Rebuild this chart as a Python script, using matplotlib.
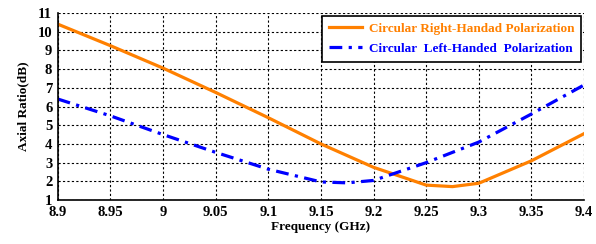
import matplotlib.pyplot as plt

# Data
freq_rh = [8.9, 8.95, 9.0, 9.05, 9.1, 9.15, 9.2, 9.25, 9.275, 9.3, 9.35, 9.4]
ar_rh = [10.4, 9.25, 8.05, 6.75, 5.4, 4.0, 2.75, 1.8, 1.72, 1.9, 3.1, 4.55]

freq_lh = [8.9, 8.95, 9.0, 9.05, 9.1, 9.15, 9.175, 9.2, 9.25, 9.3, 9.35, 9.4]
ar_lh = [6.4, 5.5, 4.5, 3.55, 2.65, 1.97, 1.92, 2.05, 3.0, 4.1, 5.6, 7.15]

xticks = [8.9, 8.95, 9.0, 9.05, 9.1, 9.15, 9.2, 9.25, 9.3, 9.35, 9.4]
xticklabels = ['8.9', '8.95', '9', '9.05', '9.1', '9.15', '9.2', '9.25', '9.3', '9.35', '9.4']
yticks = list(range(1, 12))

plt.rcParams['font.family'] = ['Liberation Serif', 'DejaVu Serif']
plt.rcParams['font.weight'] = 'bold'

fig = plt.figure(figsize=(5.96, 2.44), dpi=100)
ax = fig.add_axes([0.097, 0.18, 0.883, 0.767])

ax.plot(freq_rh, ar_rh, color='#FF8000', linewidth=2.3, linestyle='-',
        label='Circular Right-Handad Polarization')
ax.plot(freq_lh, ar_lh, color='#0000FF', linewidth=2.3, linestyle=(0, (4, 2, 1, 2)),
        label='Circular  Left-Handed  Polarization')

ax.set_xlim(8.9, 9.4)
ax.set_ylim(1, 11)
ax.set_xticks(xticks)
ax.set_xticklabels(xticklabels)
ax.set_yticks(yticks)
ax.tick_params(labelsize=10.5, length=0, pad=4)
for lbl in ax.get_xticklabels() + ax.get_yticklabels():
    lbl.set_fontweight('bold')

ax.grid(True, color='black', linestyle=(0, (2, 2)), linewidth=0.8)
ax.spines['top'].set_visible(False)
ax.spines['right'].set_visible(False)
ax.spines['left'].set_linewidth(1.2)
ax.spines['bottom'].set_linewidth(1.2)

ax.set_xlabel('Frequency (GHz)', fontsize=9.5, fontweight='bold', labelpad=2)
ax.set_ylabel('Axial Ratio(dB)', fontsize=9.5, fontweight='bold', labelpad=6)

leg = ax.legend(loc='upper right', fontsize=9.5, labelcolor='linecolor', frameon=True,
                fancybox=False, edgecolor='black', framealpha=1, handlelength=2.5,
                borderaxespad=0.2, borderpad=0.55, labelspacing=0.55, handletextpad=0.5)
leg.get_frame().set_linewidth(1.2)
for t in leg.get_texts():
    t.set_fontweight('bold')

fig.savefig('out.png', dpi=100)
